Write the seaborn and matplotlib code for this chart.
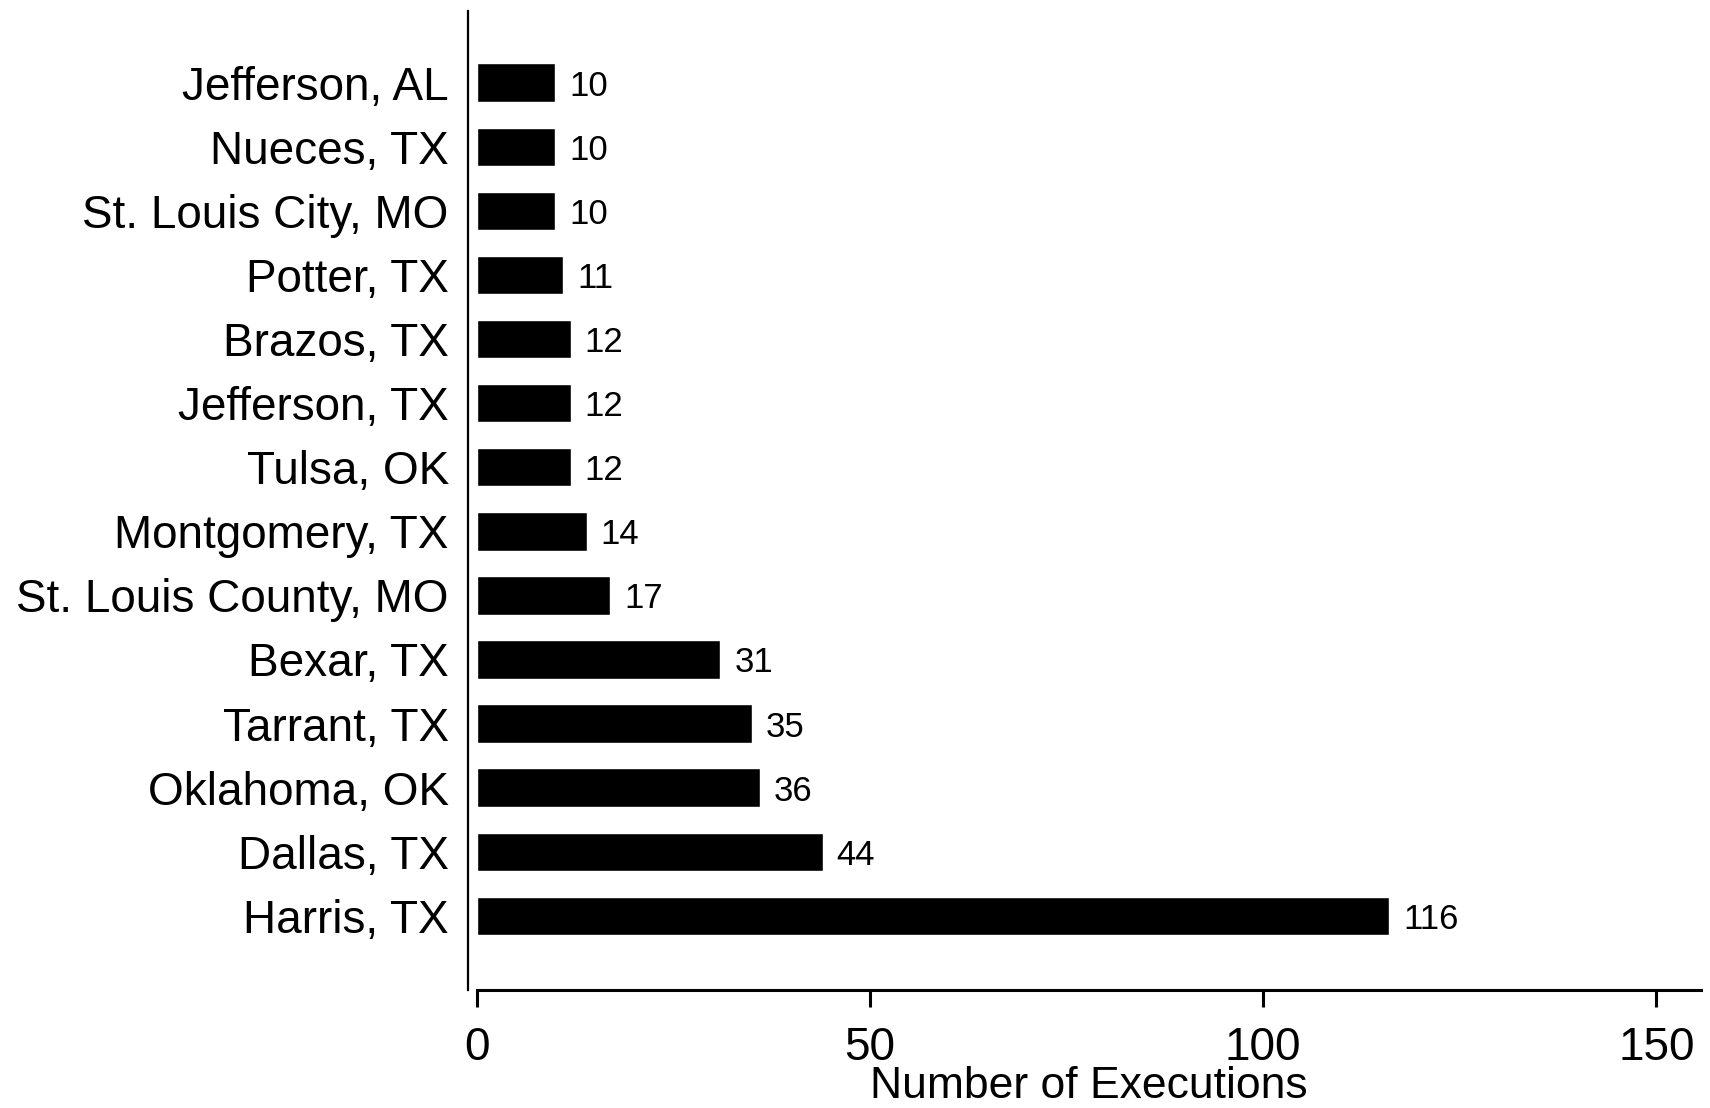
import seaborn as sns
import matplotlib.pyplot as plt

counties = ['Jefferson, AL', 'Nueces, TX', 'St. Louis City, MO', 'Potter, TX',
            'Brazos, TX', 'Jefferson, TX', 'Tulsa, OK', 'Montgomery, TX',
            'St. Louis County, MO', 'Bexar, TX', 'Tarrant, TX', 'Oklahoma, OK',
            'Dallas, TX', 'Harris, TX']
executions = [10, 10, 10, 11, 12, 12, 12, 14, 17, 31, 35, 36, 44, 116]
xticks = [0, 50, 100, 150]

sns.set_style('white')
plt.rcParams['font.family'] = ['Liberation Sans', 'DejaVu Sans']
plt.rcParams['text.color'] = 'black'

fig = plt.figure(figsize=(17.1, 11.08), dpi=100)
ax = fig.add_axes([0.2787, 0.1063, 0.7162, 0.8839])

sns.barplot(x=executions, y=counties, order=counties, orient='h',
            color='black', width=0.6, saturation=1, ax=ax)

# etiquetas de valor al final de cada barra
labels = ax.bar_label(ax.containers[0], fmt='%d', padding=10, fontsize=25,
                      color='black')
for t in labels:
    t.set_va('center_baseline')

ax.set_xlim(0, 155.7)
ax.set_ylim(len(counties) - 1 + 1.16, -1.12)
ax.set_xticks(xticks)
ax.set_xlabel('Number of Executions', fontsize=32, labelpad=-2.8, color='black')
ax.set_ylabel('')

for side in ['top', 'right']:
    ax.spines[side].set_visible(False)
ax.spines['left'].set_position(('outward', 6))
ax.spines['left'].set_linewidth(1.6)
ax.spines['left'].set_color('black')
ax.spines['bottom'].set_linewidth(2.2)
ax.spines['bottom'].set_color('black')

ax.tick_params(axis='x', direction='out', length=12, width=2.2, pad=13.5,
               labelsize=33, colors='black', bottom=True)
ax.tick_params(axis='y', length=0, pad=14, labelsize=33, colors='black')

fig.savefig('out.png', dpi=100, facecolor='white')
